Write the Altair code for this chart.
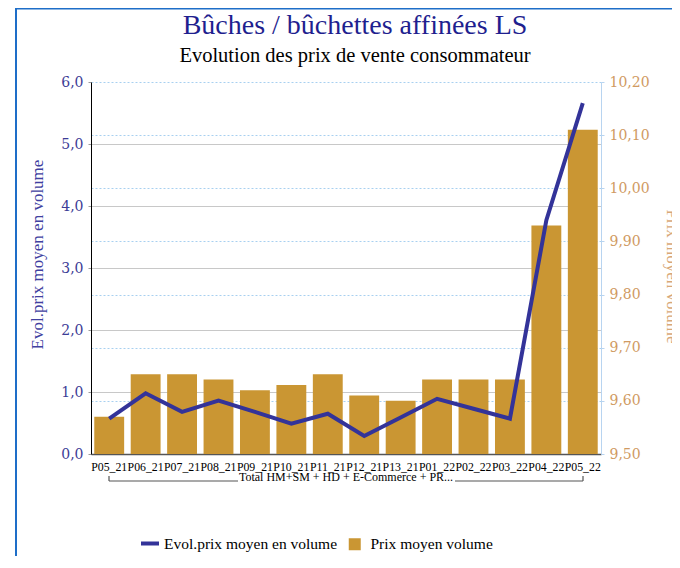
import altair as alt
import pandas as pd

periodes = ["P05_21", "P06_21", "P07_21", "P08_21", "P09_21", "P10_21", "P11_21",
            "P12_21", "P13_21", "P01_22", "P02_22", "P03_22", "P04_22", "P05_22"]
prix_moyen = [9.57, 9.65, 9.65, 9.64, 9.62, 9.63, 9.65, 9.61, 9.60, 9.64, 9.64, 9.64, 9.93, 10.11]
evol_prix = [0.57, 0.98, 0.68, 0.86, 0.68, 0.49, 0.65, 0.29, 0.59, 0.89, 0.73, 0.57, 3.77, 5.66]
left_ticks = [0, 1, 2, 3, 4, 5, 6]
right_ticks = [9.5, 9.6, 9.7, 9.8, 9.9, 10.0, 10.1, 10.2]
serie_bar = "Prix moyen volume"
serie_line = "Evol.prix moyen en volume"
group_label = "Total HM+SM + HD + E-Commerce + PR..."
title_text = "Bûches / bûchettes affinées LS"
subtitle_text = "Evolution des prix de vente consommateur"

df = pd.DataFrame({"periode": periodes, "prix": prix_moyen, "evol": evol_prix,
                   "s_bar": [serie_bar] * len(periodes),
                   "s_line": [serie_line] * len(periodes)})

SERIF = "Liberation Serif"
NUM = "DejaVu Serif"
BAR = "#CA9633"
LINE = "#333399"

x_enc = alt.X("periode:N", sort=periodes,
              scale=alt.Scale(paddingInner=0.18, paddingOuter=0.09),
              axis=alt.Axis(title=None, labelAngle=0, labelFont=SERIF, labelFontSize=11.8,
                            labelColor="black", ticks=False, labelPadding=7,
                            labelOverlap=False, labelBound=False,
                            domainColor="#555555", domainWidth=1.5))

bars = alt.Chart(df).mark_bar().encode(
    x=x_enc,
    y=alt.Y("prix:Q", scale=alt.Scale(domain=[9.5, 10.2], zero=False, nice=False),
            axis=alt.Axis(orient="right", values=right_ticks, title=serie_bar,
                          labelExpr="replace(format(datum.value, '.2f'), '.', ',')",
                          labelFont=NUM, labelFontSize=14, labelColor="#D09A62",
                          titleFont=SERIF, titleFontSize=17, titleColor="#D8A878",
                          titleFontWeight="normal", titleAngle=90, titleX=65, titleY=194,
                          titleBaseline="alphabetic",
                          grid=True, gridColor="#A8D0F0", gridDash=[2, 2],
                          domainColor="#B8D4F0", tickColor="#B8D4F0", tickSize=3,
                          labelPadding=5)),
    y2=alt.datum(9.5),
    color=alt.Color("s_bar:N",
                    scale=alt.Scale(domain=[serie_bar], range=[BAR]),
                    legend=alt.Legend(title=None, orient="none", legendX=256, legendY=454.5,
                                      symbolType="square", symbolSize=144,
                                      labelFont=SERIF, labelFontSize=15.5, labelColor="black",
                                      labelOffset=8, padding=0, labelLimit=400)),
)

line = alt.Chart(df).mark_line(strokeWidth=4).encode(
    x=alt.X("periode:N", sort=periodes),
    y=alt.Y("evol:Q", scale=alt.Scale(domain=[0, 6], nice=False),
            axis=alt.Axis(orient="left", values=left_ticks, title=serie_line,
                          labelExpr="replace(format(datum.value, '.1f'), '.', ',')",
                          labelFont=NUM, labelFontSize=14, labelColor="#3C3C96",
                          titleFont=SERIF, titleFontSize=17, titleColor="#4040A0",
                          titleFontWeight="normal", titleAngle=270, titleX=-45, titleY=172,
                          titleBaseline="bottom",
                          grid=True, gridColor="#C8C8C8",
                          gridOpacity={"condition": {"test": "datum.value == 6", "value": 0}, "value": 1},
                          domainColor="black", tickColor="#999999", tickSize=3,
                          labelPadding=5)),
    color=alt.Color("s_line:N",
                    scale=alt.Scale(domain=[serie_line], range=[LINE]),
                    legend=alt.Legend(title=None, orient="none", legendX=48, legendY=450.5,
                                      symbolType="stroke", symbolSize=324, symbolStrokeWidth=4,
                                      labelFont=SERIF, labelFontSize=15.5, labelColor="black",
                                      labelOffset=3, padding=0, labelLimit=400)),
)

one = pd.DataFrame({"k": [0]})
GRAY = "#555555"
bracket = alt.layer(
    alt.Chart(one).mark_rule(color=GRAY, strokeWidth=1.2).encode(
        x=alt.value(18), x2=alt.value(147), y=alt.value(399)),
    alt.Chart(one).mark_rule(color=GRAY, strokeWidth=1.2).encode(
        x=alt.value(364), x2=alt.value(492), y=alt.value(399)),
    alt.Chart(one).mark_rule(color=GRAY, strokeWidth=1.2).encode(
        x=alt.value(18), y=alt.value(394), y2=alt.value(399)),
    alt.Chart(one).mark_rule(color=GRAY, strokeWidth=1.2).encode(
        x=alt.value(492), y=alt.value(394), y2=alt.value(399)),
    alt.Chart(one).mark_text(font=SERIF, fontSize=12, color="black", baseline="alphabetic").encode(
        x=alt.value(255), y=alt.value(399), text=alt.value(group_label)),
)

titles = alt.layer(
    alt.Chart(one).mark_text(font=SERIF, fontSize=28, color="#1F1F8F", baseline="alphabetic",
                             align="center").encode(
        x=alt.value(264), y=alt.value(-48), text=alt.value(title_text)),
    alt.Chart(one).mark_text(font=SERIF, fontSize=20.5, color="black", baseline="alphabetic",
                             align="center").encode(
        x=alt.value(264), y=alt.value(-20), text=alt.value(subtitle_text)),
)

FRAME = "#1E6EC8"
frame = alt.layer(
    alt.Chart(one).mark_rule(color=FRAME, strokeWidth=2).encode(
        x=alt.value(-75), y=alt.value(-73.5), y2=alt.value(490)),
    alt.Chart(one).mark_rule(color=FRAME, strokeWidth=2).encode(
        x=alt.value(-76), x2=alt.value(600), y=alt.value(-73.5)),
)

chart = alt.layer(bars, line, bracket, titles, frame).resolve_scale(
    y="independent", color="independent"
).properties(
    width=510, height=372,
    autosize=alt.AutoSizeParams(type="none"),
    padding={"left": 83, "top": 74, "right": 71, "bottom": 102},
).configure_view(stroke=None)

chart.save("out.html", embed_options={"renderer": "svg", "actions": False})
